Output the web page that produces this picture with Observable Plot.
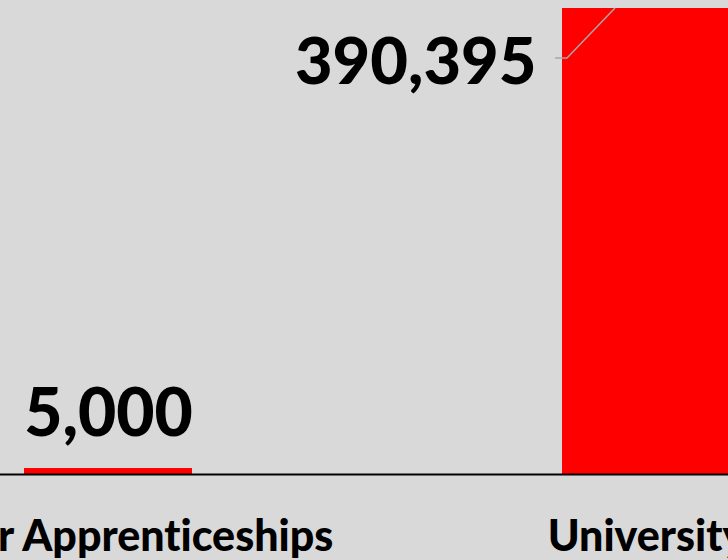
<!DOCTYPE html>
<html>
<head>
<meta charset="utf-8">
<script src="https://cdn.jsdelivr.net/npm/d3@7"></script>
<script src="https://cdn.jsdelivr.net/npm/@observablehq/plot@0.6"></script>
<style>
  html, body { margin: 0; padding: 0; background: #d9d9d9; overflow: hidden; }
  #chart svg { overflow: hidden; display: block; font-variant-ligatures: none; }
</style>
</head>
<body>
<div id="chart"></div>
<script>
// Data
const categories = ["Higher Apprenticeships", "University"];
const values = [5000, 390395];
const valueLabels = ["5,000", "390,395"];

const data = categories.map((c, i) => ({cat: c, value: values[i], label: valueLabels[i]}));

const font = "Lato, 'Open Sans', sans-serif";

// leader line from moved label to bar top (computed from scales)
function leader(index, scales) {
  const ns = "http://www.w3.org/2000/svg";
  const d = data[1];
  const x0 = scales.x(d.cat);
  const yTop = scales.y(d.value);
  const pts = [[x0 - 7, yTop + 50], [x0 + 5, yTop + 50], [x0 + 53, yTop]];
  const g = document.createElementNS(ns, "g");
  const p = document.createElementNS(ns, "polyline");
  p.setAttribute("points", pts.map(q => q.join(",")).join(" "));
  p.setAttribute("fill", "none");
  p.setAttribute("stroke", "#a6a6a6");
  p.setAttribute("stroke-width", "1.5");
  g.appendChild(p);
  return g;
}

const chart = Plot.plot({
  width: 728,
  height: 560,
  margin: 0,
  style: {background: "#d9d9d9", fontFamily: font, overflow: "hidden"},
  x: {type: "band", domain: categories, range: [-161, 915], paddingInner: 0.688, paddingOuter: 0.344, axis: null},
  y: {domain: [0, values[1]], range: [474, 8], axis: null},
  marks: [
    Plot.barY(data, {x: "cat", y: "value", fill: "#ff0000"}),
    Plot.ruleY([0], {stroke: "#000", strokeWidth: 2}),
    leader,
    Plot.text(data, {x: "cat", text: "cat", frameAnchor: "bottom", lineAnchor: "bottom", dy: -10,
      fontSize: 43, fontWeight: 900, fill: "#000", fontFamily: font}),
    Plot.text(data.slice(0, 1), {x: "cat", y: "value", text: "label", lineAnchor: "bottom", dy: -33,
      fontSize: 66, fontWeight: 900, fill: "#000", fontFamily: font}),
    Plot.text(data.slice(1, 2), {x: "cat", y: "value", text: "label", lineAnchor: "bottom", textAnchor: "end", dx: -110, dy: 75,
      fontSize: 65, fontWeight: 900, fill: "#000", fontFamily: font})
  ]
});
document.getElementById("chart").appendChild(chart);
</script>
</body>
</html>
